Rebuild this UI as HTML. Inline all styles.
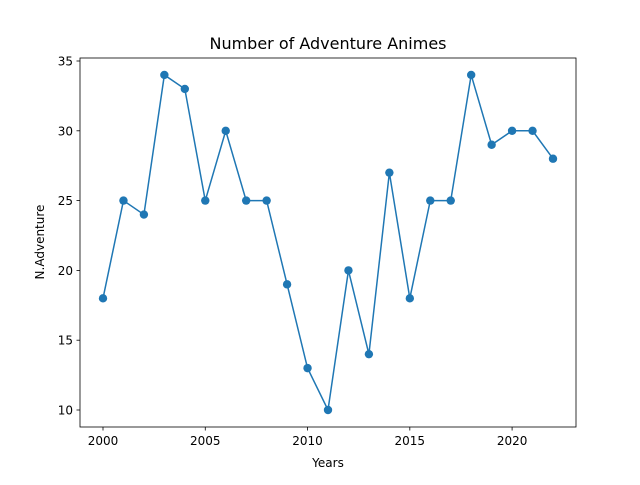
<!DOCTYPE html>
<html><head><meta charset="utf-8"><style>
body{margin:0;background:#fff;}
svg text{font-family:"DejaVu Sans","Liberation Sans",sans-serif;fill:#000;}
</style></head><body>
<svg id="chart" width="640" height="480" xmlns="http://www.w3.org/2000/svg">
<rect width="640" height="480" fill="#fff"/>
<text x="328" y="49" font-size="16" text-anchor="middle">Number of Adventure Animes</text>
<g id="xt"></g><g id="yt"></g>
<polyline id="line" fill="none" stroke="#1f77b4" stroke-width="1.5"/>
<g id="pts"></g>
<rect x="80" y="58" width="496" height="369" fill="none" stroke="#000" stroke-width="0.8"/>
<text x="328" y="467" font-size="12" text-anchor="middle">Years</text>
<text x="44" y="242" font-size="12" text-anchor="middle" transform="rotate(-90 44 242)">N.Adventure</text>
</svg>
<script>
const years=[2000,2001,2002,2003,2004,2005,2006,2007,2008,2009,2010,2011,2012,2013,2014,2015,2016,2017,2018,2019,2020,2021,2022];
const counts=[18,25,24,34,33,25,30,25,25,19,13,10,20,14,27,18,25,25,34,29,30,30,28];
const xTicks=[2000,2005,2010,2015,2020];
const yTicks=[10,15,20,25,30,35];
const NS="http://www.w3.org/2000/svg";
const xs=v=>103+(v-2000)*450/22;
const ys=v=>410-(v-10)*349/25;
function mk(t,a,p){const e=document.createElementNS(NS,t);for(const k in a)e.setAttribute(k,a[k]);p.appendChild(e);return e;}
const xt=document.getElementById('xt'),yt=document.getElementById('yt');
xTicks.forEach(v=>{
 const l=mk('line',{x1:xs(v),x2:xs(v),y1:427,y2:430.5,stroke:'#000','stroke-width':0.8},xt);
 
 
 const t=mk('text',{x:xs(v),y:445,'font-size':12,'text-anchor':'middle'},xt);t.textContent=v;
 
 
});
yTicks.forEach(v=>{
 const l=mk('line',{x1:76.5,x2:80,y1:ys(v),y2:ys(v),stroke:'#000','stroke-width':0.8},yt);
 
 
 const t=mk('text',{x:73,y:ys(v)+4.5,'font-size':12,'text-anchor':'end'},yt);t.textContent=v;
 
 
});
document.getElementById('line').setAttribute('points',years.map((y,i)=>xs(y)+','+ys(counts[i])).join(' '));
const pts=document.getElementById('pts');
years.forEach((y,i)=>{
 const c=mk('circle',{cx:xs(y),cy:ys(counts[i]),r:4.2,fill:'#1f77b4'},pts);
 
 
});
</script>
</body></html>
